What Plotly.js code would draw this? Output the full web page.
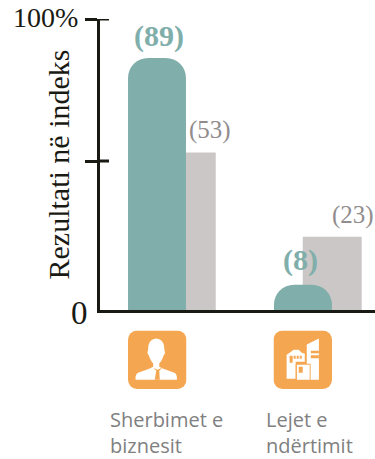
<!DOCTYPE html>
<html><head><meta charset="utf-8">
<script src="https://cdn.plot.ly/plotly-3.0.1.min.js"></script>
<style>html,body{margin:0;padding:0;background:#fff;overflow:hidden}</style></head>
<body><div id="c" style="width:375px;height:459px"></div>
<script>
const categories = ['Sherbimet e biznesit', 'Lejet e ndërtimit'];
const categoryLines = ['Sherbimet e<br>biznesit', 'Lejet e<br>ndërtimit'];
const tealDrawn = [86.6, 8.7];
const greyDrawn = [54.1, 25.2];
const tealLabels = ['(89)', '(8)'];
const greyLabels = ['(53)', '(23)'];
const tickLabels = ['0', '', '100%'];
const yTitle = 'Rezultati në indeks';

const W = 375, H = 459, L = 100, R = 0, T = 19.3, B = 148.5;
const pw = W - L - R, ph = H - T - B;
const px = x => (x - L) / pw;
const py = y => 1 - (y - T) / ph;

const svg = inner => 'data:image/svg+xml;utf8,' + encodeURIComponent(
  '<svg xmlns="http://www.w3.org/2000/svg" viewBox="0 0 58 58" width="58" height="58">' +
  '<rect width="58" height="58" rx="9" fill="#f4a651"/>' + inner + '</svg>');
const person = svg(
  '<path fill="#fff" d="M29 8c-6 0-9 4-9 10 0 2-1 3-.5 5 .4 1 1 1 1.300 2 .8 3 2.500 6 4.200 7.500v3.500l-4 2-11 4c-2 1-2.500 3-2.500 5v2h41v-2c0-2-.5-4-2.500-5l-11-4-4-2v-3.500c1.700-1.500 3.400-4.500 4.200-7.500.3-1 .9-1 1.300-2 .5-2-.5-3-.5-5 0-6-3-10-9-10z"/>' +
  '<path fill="#f4a651" d="M25 37l3 3-1.500 9h5L31 40l3-3-5 2z"/>');
const building = svg(
  '<path fill="#fff" d="M33 14l12-6v41h-9V33h-3zM13 24l3-2 4-3h5l3 3 3 1v8H22v17h-9z"/>' +
  '<path fill="#fff" d="M23 34h13v15H23z"/>' +
  '<path fill="#f4a651" d="M37 20h8v2.500h-8zM37 24.500h8v3h-8zM16 25h3v7h-3zM20 25h2v3h-2zM23 25h2v3h-2zM26 25h2v3h-2zM25 36h4v6h-4zM22 33h1v16h-1zM36 33h.8v16H36z"/>');

const iconX = [128, 273.500];
const images = [person, building].map((src, i) => ({
  source: src, xref: 'paper', yref: 'paper', layer: 'above',
  x: px(iconX[i]), y: py(331), sizex: 58.500 / pw, sizey: 58.500 / ph,
  xanchor: 'left', yanchor: 'top', sizing: 'stretch'
}));

const serif = 'Liberation Serif, serif';
const ann = (text, xp, yp, size, color, extra) => Object.assign({
  text, xref: 'paper', yref: 'paper', x: px(xp), y: py(yp), showarrow: false,
  font: {family: serif, size, color}, xanchor: 'center', yanchor: 'middle'
}, extra || {});
const annotations = [
  ann(tealLabels[0], 158.500, 36, 30, '#80aeaa', {font: {family: serif, size: 30, color: '#80aeaa', weight: 700}}),
  ann(tealLabels[1], 300, 260, 30, '#80aeaa', {font: {family: serif, size: 30, color: '#80aeaa', weight: 700}}),
  ann(greyLabels[0], 210, 130, 25, '#918d8d'),
  ann(greyLabels[1], 353, 215, 25, '#918d8d'),
  ann(tickLabels[2], 80, 18, 28, '#1a1a14', {xanchor: 'right'}),
  ann(tickLabels[0], 90, 314, 33, '#1a1a14', {xanchor: 'right'}),
];
const textX = [108, 263.500];
categoryLines.forEach((t, i) => annotations.push({
  text: t, xref: 'paper', yref: 'paper', x: px(textX[i]), y: py(433), showarrow: false,
  xanchor: 'left', yanchor: 'middle', align: 'left',
  font: {family: 'Open Sans, sans-serif', size: 20, color: '#808080'}
}));

const shapes = [51.2, 100].map(v => ({
  type: 'line', xref: 'paper', yref: 'y', x0: px(98), x1: px(109), y0: v, y1: v,
  line: {color: '#1a1a14', width: 3}
}));

const traces = [
  {type: 'bar', name: 'Grey', x: categories, y: greyDrawn, offset: -0.2, width: 0.404,
   marker: {color: '#cbc7c7', line: {width: 0}}, hoverinfo: 'skip'},
  {type: 'bar', name: 'Teal', x: categories, y: tealDrawn, offset: -0.397, width: 0.397,
   marker: {color: '#80aeaa', line: {width: 0}, cornerradius: 20}, hoverinfo: 'skip'}
];
const layout = {
  width: W, height: H, margin: {l: L, r: R, t: T, b: B, pad: 0},
  paper_bgcolor: '#fff', plot_bgcolor: '#fff', showlegend: false, barmode: 'overlay',
  xaxis: {type: 'category', range: [-0.589, 1.295], showgrid: false, zeroline: false,
    showticklabels: false, ticks: '', showline: true, linecolor: '#1a1a14', linewidth: 3,
    categoryorder: 'array', categoryarray: categories},
  yaxis: {range: [0, 100], showgrid: false, zeroline: false, showline: true,
    linecolor: '#1a1a14', linewidth: 3, tickmode: 'array', tickvals: [51.2, 100],
    ticktext: ['', ''], ticks: 'outside', ticklen: 12, tickwidth: 3, tickcolor: '#1a1a14',
    showticklabels: false,
    title: {text: yTitle, standoff: 7, font: {family: serif, size: 30, color: '#1a1a14'}}},
  annotations, shapes, images
};
Plotly.newPlot('c', traces, layout, {displayModeBar: false, staticPlot: true});
</script></body></html>
